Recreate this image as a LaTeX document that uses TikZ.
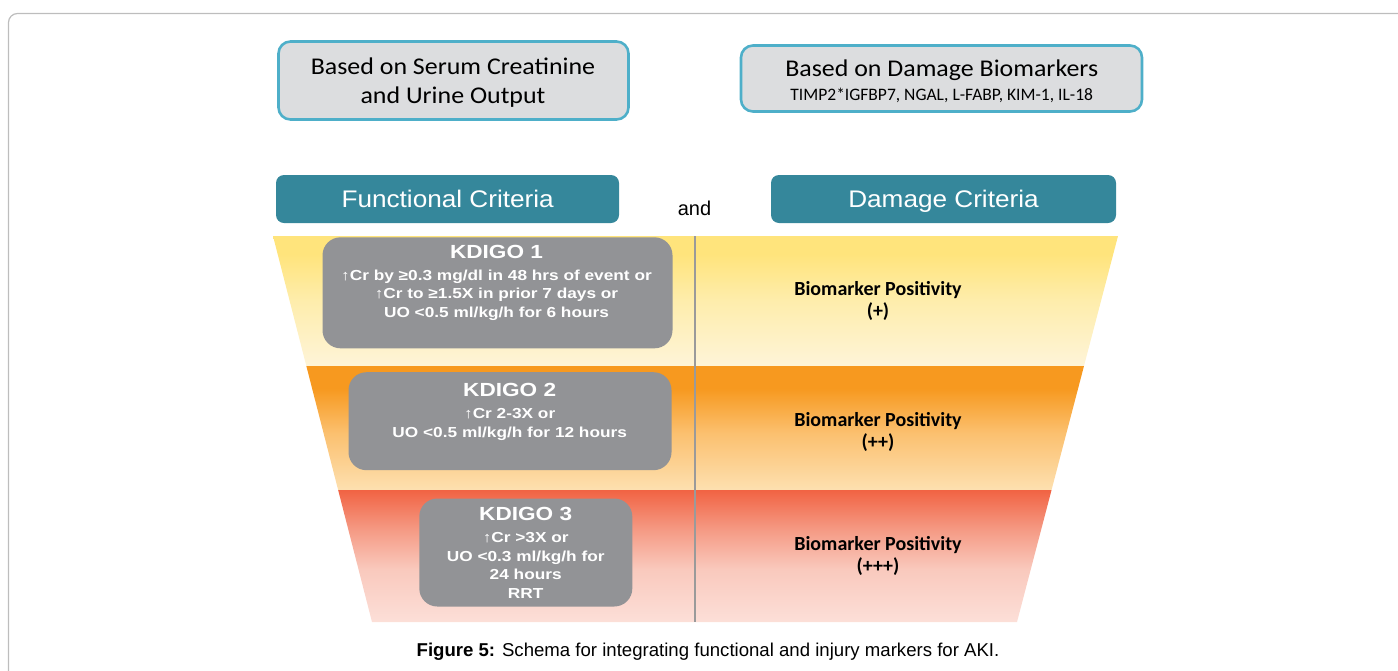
\documentclass[tikz,border=0pt]{standalone}
\usepackage{fontspec}
\setmainfont{Liberation Sans}
\newfontfamily\calfont{Carlito}
\newfontfamily\topfont[FakeStretch=1.08]{Carlito}
\newfontfamily\critfont[FakeStretch=1.09]{Liberation Sans}
\newfontfamily\kfont[FakeStretch=1.19]{Liberation Sans}
\usetikzlibrary{calc}
\definecolor{framegray}{HTML}{BDBDBD}
\definecolor{topfill}{HTML}{DCDDDF}
\definecolor{topedge}{HTML}{4EAFC9}
\definecolor{teal}{HTML}{35879B}
\definecolor{kgray}{HTML}{929396}
\definecolor{divgray}{HTML}{9A9A9A}
\definecolor{bonetop}{HTML}{FFE47C}
\definecolor{bonemid}{HTML}{FEEDAC}
\definecolor{bonebot}{HTML}{FEF4D8}
\definecolor{btwotop}{HTML}{F7991F}
\definecolor{btwomid}{HTML}{FBC06F}
\definecolor{btwobot}{HTML}{FDE0B0}
\definecolor{bthrtop}{HTML}{F16343}
\definecolor{bthrmid}{HTML}{F59A84}
\definecolor{bthrlow}{HTML}{F9C9BD}
\definecolor{bthrbot}{HTML}{FCDFD8}
\pgfdeclareverticalshading{bandone}{100bp}{color(0bp)=(bonebot); color(25bp)=(bonebot); color(50bp)=(bonemid); color(68bp)=(bonetop); color(75bp)=(bonetop); color(100bp)=(bonetop)}
\pgfdeclareverticalshading{bandtwo}{100bp}{color(0bp)=(btwobot); color(25bp)=(btwobot); color(48bp)=(btwomid); color(66bp)=(btwotop); color(75bp)=(btwotop); color(100bp)=(btwotop)}
\pgfdeclareverticalshading{bandthree}{100bp}{color(0bp)=(bthrbot); color(25bp)=(bthrbot); color(45bp)=(bthrlow); color(60bp)=(bthrmid); color(75bp)=(bthrtop); color(100bp)=(bthrtop)}
\tikzset{
  topbox/.style={draw=topedge, line width=2.6pt, fill=topfill, rounded corners=12pt, inner sep=0pt},
  critbox/.style={fill=teal, rounded corners=8pt, inner sep=0pt},
  kbox/.style={fill=kgray, rounded corners=18pt, inner sep=0pt},
  toptext/.style={align=center, inner sep=0pt, anchor=base, font=\topfont\fontsize{24}{29}\selectfont},
  crittext/.style={inner sep=0pt, anchor=base, text=white, font=\critfont\fontsize{24}{28}\selectfont},
  ktext/.style={align=center, inner sep=0pt, anchor=base, text=white, font=\kfont\bfseries\fontsize{14.5}{18.5}\selectfont},
  biotext/.style={align=center, inner sep=0pt, anchor=base, font=\calfont\bfseries\fontsize{20}{22}\selectfont}
}
\begin{document}
\begin{tikzpicture}[x=1pt,y=-1pt]
\useasboundingbox (0,0) rectangle (1398,670);
% outer frame
\begin{scope}
\clip (0,0) rectangle (1398,670);
\draw[framegray, line width=1.2pt, rounded corners=9pt] (8.5,13.5) rectangle (1430,700);
\end{scope}
% top boxes
\node[topbox, minimum width=350pt, minimum height=78pt] (topl) at (453.5,80.5) {};
\node[toptext] (toplt) at (453,103.3) {Based on Serum Creatinine\\and Urine Output};
\node[topbox, minimum width=401pt, minimum height=66pt] (topr) at (941.5,78.5) {};
\node[toptext] (toprt) at (941.7,76.7) {Based on Damage Biomarkers};
\node[inner sep=0pt, anchor=base, font=\calfont\fontsize{17.5}{20}\selectfont] (toprs) at (941.7,100) {TIMP2*IGFBP7, NGAL, L-FABP, KIM-1, IL-18};
% criteria boxes
\node[critbox, minimum width=343pt, minimum height=48pt] (func) at (447.5,199) {};
\node[crittext] (funct) at (447.7,207.7) {Functional Criteria};
\node[critbox, minimum width=345pt, minimum height=48pt] (dam) at (943.5,199) {};
\node[crittext] (damt) at (943.5,207.7) {Damage Criteria};
\node[inner sep=0pt, anchor=base, font=\fontsize{20}{24}\selectfont] (and) at (694.5,215) {and};
% funnel
\coordinate (tl) at (273,236);
\coordinate (tr) at (1118,236);
\coordinate (bl) at (372,622);
\coordinate (br) at (1017,622);
\coordinate (ml1) at ($(tl)!{130/386}!(bl)$);
\coordinate (mr1) at ($(tr)!{130/386}!(br)$);
\coordinate (ml2) at ($(tl)!{254/386}!(bl)$);
\coordinate (mr2) at ($(tr)!{254/386}!(br)$);
\shade[shading=bandone] (tl) -- (tr) -- (mr1) -- (ml1) -- cycle;
\shade[shading=bandtwo] (ml1) -- (mr1) -- (mr2) -- (ml2) -- cycle;
\shade[shading=bandthree] (ml2) -- (mr2) -- (br) -- (bl) -- cycle;
\coordinate (dtop) at (694.5,236);
\coordinate (dbot) at (694.5,622);
\draw[divgray, line width=2pt] (dtop) -- (dbot);
% KDIGO boxes
\node[kbox, minimum width=350pt, minimum height=111pt] (k1) at (497.5,292.8) {};
\node[ktext] (k1t) at (496.5,317) {{\fontsize{19}{19}\selectfont KDIGO 1}\\[3.2pt]↑Cr by ≥0.3 mg/dl in 48 hrs of event or\\↑Cr to ≥1.5X in prior 7 days or\\UO <0.5 ml/kg/h for 6 hours};
\node[kbox, minimum width=323pt, minimum height=98pt] (k2) at (510,421.2) {};
\node[ktext] (k2t) at (509.7,437) {{\fontsize{19}{19}\selectfont KDIGO 2}\\[3.2pt]↑Cr 2-3X or\\UO <0.5 ml/kg/h for 12 hours};
\node[kbox, minimum width=213pt, minimum height=108pt] (k3) at (525.8,552.5) {};
\node[ktext] (k3t) at (525.7,598) {{\fontsize{19}{19}\selectfont KDIGO 3}\\[3.2pt]↑Cr >3X or\\UO <0.3 ml/kg/h for\\24 hours\\RRT};
% biomarker text
\node[biotext] (b1) at (878,317) {Biomarker Positivity\\(+)};
\node[biotext] (b2) at (878,448.7) {Biomarker Positivity\\(++)};
\node[biotext] (b3) at (878,572.7) {Biomarker Positivity\\(+++)};
% caption
\node[inner sep=0pt, anchor=base, font=\fontsize{18.6}{22}\selectfont] (cap) at (708,656.7) {\textbf{Figure 5:} Schema for integrating functional and injury markers for AKI.};
\end{tikzpicture}
\end{document}
